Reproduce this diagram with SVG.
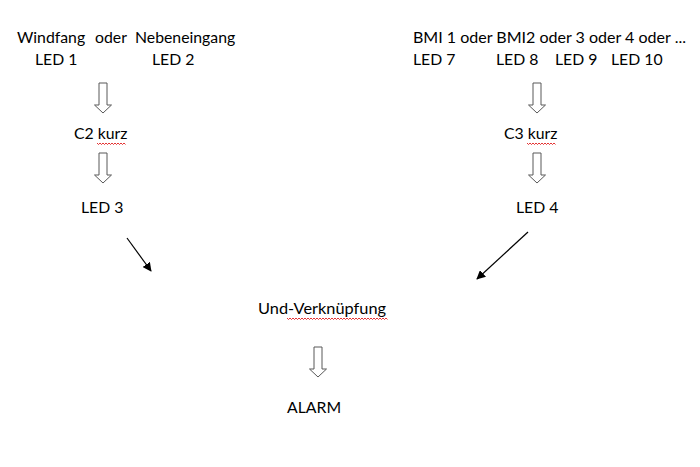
<svg xmlns="http://www.w3.org/2000/svg" width="700" height="467" viewBox="0 0 700 467">
<style>
text{font-family:Lato,"Liberation Sans",sans-serif;font-size:15.8px;fill:#000}
.ha{fill:#fff;stroke:#595959;stroke-width:1}
.sq{fill:none;stroke:#d00;stroke-width:0.8}
.ln{stroke:#000;stroke-width:1.2;fill:none}
</style>
<defs>
<marker id="ah" viewBox="0 0 10 10" refX="9" refY="5" markerWidth="9" markerHeight="9" markerUnits="userSpaceOnUse" orient="auto"><path d="M0,0 L10,5 L0,10 z" fill="#000"/></marker>
<path id="hollow" d="M-4,0 H4 V22 H8.5 L0,30 L-8.5,22 H-4 Z"/>
</defs>
<rect width="700" height="467" fill="#fff"/>
<g id="windfang"><text x="17" y="43">Windfang</text><text x="95" y="43">oder</text><text x="135" y="43">Nebeneingang</text></g>
<g id="led1"><text x="35" y="65">LED 1</text></g>
<g id="led2"><text x="152" y="65">LED 2</text></g>
<g id="bmi"><text x="413" y="43" textLength="273" lengthAdjust="spacingAndGlyphs">BMI 1 oder BMI2 oder 3 oder 4 oder ...</text></g>
<g id="led7"><text x="413" y="65">LED 7</text></g>
<g id="led8"><text x="496" y="65">LED 8</text></g>
<g id="led9"><text x="555" y="65">LED 9</text></g>
<g id="led10"><text x="611" y="65">LED 10</text></g>
<g id="c2"><text x="74" y="139">C2 kurz</text><path class="sq" d="M97,143 l1.5,1.5 l1.5,-1.5 l1.5,1.5 l1.5,-1.5 l1.5,1.5 l1.5,-1.5 l1.5,1.5 l1.5,-1.5 l1.5,1.5 l1.5,-1.5 l1.5,1.5 l1.5,-1.5 l1.5,1.5 l1.5,-1.5 l1.5,1.5 l1.5,-1.5 l1.5,1.5 l1.5,-1.5 l1.5,1.5"/></g>
<g id="led3"><text x="81" y="213">LED 3</text></g>
<g id="c3"><text x="504" y="139">C3 kurz</text><path class="sq" d="M527,143 l1.5,1.5 l1.5,-1.5 l1.5,1.5 l1.5,-1.5 l1.5,1.5 l1.5,-1.5 l1.5,1.5 l1.5,-1.5 l1.5,1.5 l1.5,-1.5 l1.5,1.5 l1.5,-1.5 l1.5,1.5 l1.5,-1.5 l1.5,1.5 l1.5,-1.5 l1.5,1.5 l1.5,-1.5 l1.5,1.5"/></g>
<g id="led4"><text x="516" y="213">LED 4</text></g>
<g id="und"><text x="258" y="314" textLength="128" lengthAdjust="spacingAndGlyphs">Und-Verknüpfung</text><path class="sq" d="M287,318 l1.5,1.5 l1.5,-1.5 l1.5,1.5 l1.5,-1.5 l1.5,1.5 l1.5,-1.5 l1.5,1.5 l1.5,-1.5 l1.5,1.5 l1.5,-1.5 l1.5,1.5 l1.5,-1.5 l1.5,1.5 l1.5,-1.5 l1.5,1.5 l1.5,-1.5 l1.5,1.5 l1.5,-1.5 l1.5,1.5 l1.5,-1.5 l1.5,1.5 l1.5,-1.5 l1.5,1.5 l1.5,-1.5 l1.5,1.5 l1.5,-1.5 l1.5,1.5 l1.5,-1.5 l1.5,1.5 l1.5,-1.5 l1.5,1.5 l1.5,-1.5 l1.5,1.5 l1.5,-1.5 l1.5,1.5 l1.5,-1.5 l1.5,1.5 l1.5,-1.5 l1.5,1.5 l1.5,-1.5 l1.5,1.5 l1.5,-1.5 l1.5,1.5 l1.5,-1.5 l1.5,1.5 l1.5,-1.5 l1.5,1.5 l1.5,-1.5 l1.5,1.5 l1.5,-1.5 l1.5,1.5 l1.5,-1.5 l1.5,1.5 l1.5,-1.5 l1.5,1.5 l1.5,-1.5 l1.5,1.5 l1.5,-1.5 l1.5,1.5 l1.5,-1.5 l1.5,1.5 l1.5,-1.5 l1.5,1.5 l1.5,-1.5 l1.5,1.5 l1.5,-1.5 l1.5,1.5"/></g>
<g id="alarm"><text x="287" y="413">ALARM</text></g>
<g id="connectors">
<use href="#hollow" class="ha" x="103" y="83"/>
<use href="#hollow" class="ha" x="103" y="153"/>
<use href="#hollow" class="ha" x="537" y="83"/>
<use href="#hollow" class="ha" x="537" y="153"/>
<use href="#hollow" class="ha" x="318" y="347"/>
<line class="ln" x1="127" y1="238" x2="151" y2="271" marker-end="url(#ah)"/>
<line class="ln" x1="528" y1="232" x2="477" y2="279" marker-end="url(#ah)"/>
</g>
</svg>
